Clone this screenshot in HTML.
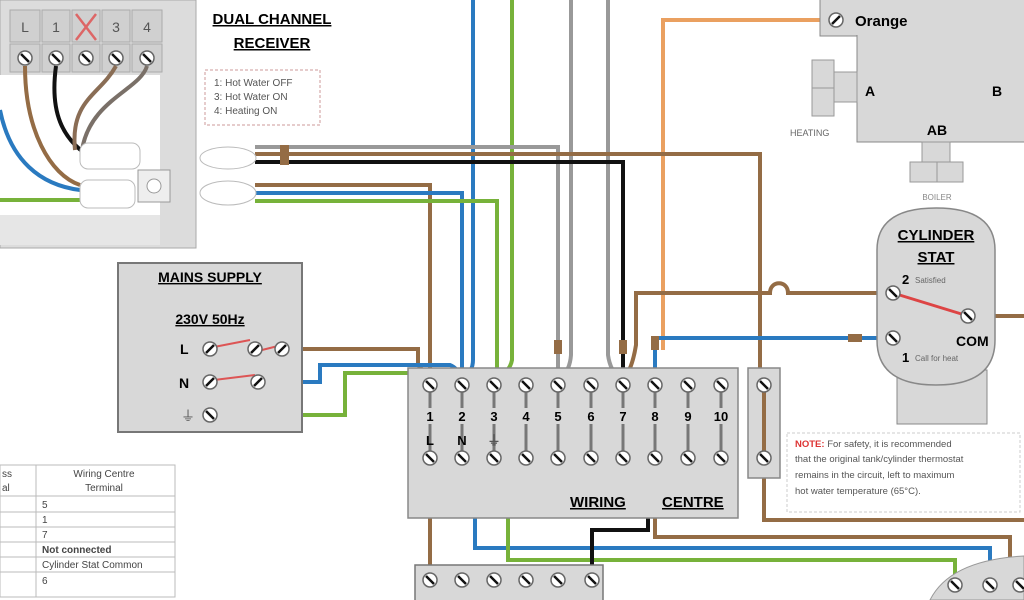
<!DOCTYPE html>
<html><head><meta charset="utf-8"><style>
html,body{margin:0;padding:0;background:#fff;width:1024px;height:600px;overflow:hidden}
svg{display:block}
text{font-family:"Liberation Sans",sans-serif}
.b{font-weight:bold}
</style></head><body>
<svg width="1024" height="600" viewBox="0 0 1024 600" xmlns="http://www.w3.org/2000/svg">
<defs>
<g id="s"><circle r="7" fill="#fff" stroke="#666" stroke-width="1.5"/><line x1="-4" y1="-4" x2="4" y2="4" stroke="#111" stroke-width="2.5"/></g>
<g id="sr"><circle r="7" fill="#fff" stroke="#666" stroke-width="1.5"/><line x1="-4" y1="4" x2="4" y2="-4" stroke="#111" stroke-width="2.5"/></g>
</defs>
<!-- receiver -->
<rect x="0" y="0" width="196" height="248" fill="#dcdcdc" stroke="#aaa"/>
<rect x="0" y="75" width="160" height="140" fill="#fff"/>
<rect x="0" y="215" width="160" height="30" fill="#e6e6e6"/>
<g fill="#d0d0d0" stroke="#aaa">
<rect x="10" y="10" width="30" height="32"/><rect x="42" y="10" width="28" height="32"/><rect x="72" y="10" width="28" height="32"/><rect x="102" y="10" width="28" height="32"/><rect x="132" y="10" width="30" height="32"/>
<rect x="10" y="44" width="30" height="28"/><rect x="42" y="44" width="28" height="28"/><rect x="72" y="44" width="28" height="28"/><rect x="102" y="44" width="28" height="28"/><rect x="132" y="44" width="30" height="28"/>
</g>
<g font-size="14" fill="#555" text-anchor="middle"><text x="25" y="32">L</text><text x="56" y="32">1</text><text x="116" y="32">3</text><text x="147" y="32">4</text></g>
<path d="M76 14 L96 40 M96 14 L76 40" stroke="#d66" stroke-width="2.5"/>
<g><use href="#s" x="25" y="58"/><use href="#s" x="56" y="58"/><use href="#s" x="86" y="58"/><use href="#s" x="116" y="58"/><use href="#s" x="147" y="58"/></g>
<g fill="none" stroke-width="4">
<path d="M0 110 C10 160 40 185 80 190" stroke="#2a7ac0"/>
<path d="M25 66 C25 130 50 175 80 185" stroke="#946c45"/>
<path d="M56 66 C50 110 60 140 95 160" stroke="#111"/>
<path d="M116 66 C100 95 70 100 75 150" stroke="#8a6d55"/>
<path d="M147 66 C140 90 90 100 82 150" stroke="#7a7068"/>
<path d="M0 200 L82 200" stroke="#77b23a"/>
</g>
<rect x="80" y="143" width="60" height="26" rx="8" fill="#fff" stroke="#bbb"/>
<rect x="80" y="180" width="55" height="28" rx="8" fill="#fff" stroke="#bbb"/>
<rect x="138" y="170" width="32" height="32" fill="#eee" stroke="#999"/><circle cx="154" cy="186" r="7" fill="#fff" stroke="#999"/>
<text x="272" y="24" class="b" font-size="15" text-anchor="middle" text-decoration="underline">DUAL CHANNEL</text>
<text x="272" y="48" class="b" font-size="15" text-anchor="middle" text-decoration="underline">RECEIVER</text>
<rect x="205" y="70" width="115" height="55" fill="#fff" stroke="#c99" stroke-dasharray="3 2"/>
<g font-size="10" fill="#555"><text x="214" y="86">1: Hot Water OFF</text><text x="214" y="100">3: Hot Water ON</text><text x="214" y="114">4: Heating ON</text></g>
<!-- vertical top wires -->
<g fill="none" stroke-width="4">
<path d="M473 0 V360 Q473 372 462 380" stroke="#2a7ac0"/>
<path d="M512 0 V360 Q510 372 494 380" stroke="#77b23a"/>
<path d="M571 0 V355 Q570 370 560 380" stroke="#999"/>
<path d="M608 0 V355 Q610 370 620 380" stroke="#999"/>
<path d="M836 20 H663 V350" stroke="#eaa060"/>
<!-- receiver plug wires -->
<path d="M255 147 H558 V380" stroke="#999"/>
<path d="M255 154 H760 V380" stroke="#946c45"/>
<path d="M255 162 H623 V380" stroke="#111"/>
<path d="M255 185 H430 V380" stroke="#946c45"/>
<path d="M255 193 H462 V380" stroke="#2a7ac0"/>
<path d="M255 201 H497 V380" stroke="#77b23a"/>
<!-- mains -->
<path d="M282 349 H418 V365 Q425 372 430 380" stroke="#946c45"/>
<path d="M258 382 H320 V365 H450 Q458 368 462 380" stroke="#2a7ac0"/>
<path d="M210 415 H345 V373 H480 Q490 375 494 380" stroke="#77b23a"/>
<!-- cylinder stat wires -->
<path d="M893 293 H788 C788 280 770 280 770 293 H636 V345 Q632 370 623 380" stroke="#946c45"/>
<path d="M893 338 H655 V380" stroke="#2a7ac0"/>
<path d="M968 316 H1024" stroke="#946c45"/>
<!-- bottom wires -->
<path d="M430 458 V570" stroke="#946c45"/>
<path d="M462 458 Q475 470 475 490 V548 H990 V580" stroke="#2a7ac0"/>
<path d="M494 458 Q508 470 508 490 V560 H955 V580" stroke="#77b23a"/>
<path d="M655 458 Q648 470 648 490 V530 H592 V580" stroke="#111"/>
<path d="M655 470 V537 H1010 V580" stroke="#946c45"/>
<path d="M764 385 V520 H1024" stroke="#946c45"/>
</g>
<g fill="#946c45"><rect x="280" y="145" width="9" height="20"/><rect x="554" y="340" width="8" height="14"/><rect x="619" y="340" width="8" height="14"/><rect x="651" y="336" width="8" height="14"/><rect x="848" y="334" width="14" height="8"/></g>
<ellipse cx="228" cy="158" rx="28" ry="11" fill="#fff" stroke="#bbb"/>
<ellipse cx="228" cy="193" rx="28" ry="12" fill="#fff" stroke="#bbb"/>
<!-- mains box -->
<rect x="118" y="263" width="184" height="169" fill="#d8d8d8" stroke="#777" stroke-width="2"/>
<text x="210" y="282" class="b" font-size="14" text-anchor="middle" text-decoration="underline">MAINS SUPPLY</text>
<text x="210" y="324" class="b" font-size="14" text-anchor="middle" text-decoration="underline">230V 50Hz</text>
<g class="b" font-size="14"><text x="180" y="354">L</text><text x="179" y="388">N</text></g>
<text x="181" y="421" font-size="14" fill="#555">⏚</text>
<path d="M214 347 L250 340 M262 350 L278 346 M214 380 L255 375" stroke="#d55" stroke-width="2"/>
<use href="#sr" x="210" y="349"/><use href="#sr" x="255" y="349"/><use href="#sr" x="282" y="349"/>
<use href="#sr" x="210" y="382"/><use href="#sr" x="258" y="382"/><use href="#s" x="210" y="415"/>
<!-- wiring centre -->
<rect x="408" y="368" width="330" height="150" fill="#d8d8d8" stroke="#888" stroke-width="1.5"/>
<g stroke="#777" stroke-width="3">
<line x1="430" y1="385" x2="430" y2="458"/><line x1="462" y1="385" x2="462" y2="458"/><line x1="494" y1="385" x2="494" y2="458"/><line x1="526" y1="385" x2="526" y2="458"/><line x1="558" y1="385" x2="558" y2="458"/><line x1="591" y1="385" x2="591" y2="458"/><line x1="623" y1="385" x2="623" y2="458"/><line x1="655" y1="385" x2="655" y2="458"/><line x1="688" y1="385" x2="688" y2="458"/><line x1="721" y1="385" x2="721" y2="458"/>
</g>
<g class="b" font-size="13" text-anchor="middle">
<rect x="423" y="408" width="305" height="16" fill="#d8d8d8"/>
<text x="430" y="421">1</text><text x="462" y="421">2</text><text x="494" y="421">3</text><text x="526" y="421">4</text><text x="558" y="421">5</text><text x="591" y="421">6</text><text x="623" y="421">7</text><text x="655" y="421">8</text><text x="688" y="421">9</text><text x="721" y="421">10</text>
<text x="430" y="445">L</text><text x="462" y="445">N</text><text x="494" y="445" fill="#555">⏚</text>
</g>
<g>
<use href="#s" x="430" y="385"/><use href="#s" x="462" y="385"/><use href="#s" x="494" y="385"/><use href="#s" x="526" y="385"/><use href="#s" x="558" y="385"/><use href="#s" x="591" y="385"/><use href="#s" x="623" y="385"/><use href="#s" x="655" y="385"/><use href="#s" x="688" y="385"/><use href="#s" x="721" y="385"/>
<use href="#s" x="430" y="458"/><use href="#s" x="462" y="458"/><use href="#s" x="494" y="458"/><use href="#s" x="526" y="458"/><use href="#s" x="558" y="458"/><use href="#s" x="591" y="458"/><use href="#s" x="623" y="458"/><use href="#s" x="655" y="458"/><use href="#s" x="688" y="458"/><use href="#s" x="721" y="458"/>
</g>
<text x="570" y="507" class="b" font-size="15" text-decoration="underline">WIRING</text>
<text x="662" y="507" class="b" font-size="15" text-decoration="underline">CENTRE</text>
<rect x="748" y="368" width="32" height="110" fill="#d8d8d8" stroke="#888" stroke-width="1.5"/>
<line x1="764" y1="385" x2="764" y2="458" stroke="#946c45" stroke-width="4"/>
<use href="#s" x="764" y="385"/><use href="#s" x="764" y="458"/>
<!-- bottom strip -->
<rect x="415" y="565" width="188" height="40" fill="#d8d8d8" stroke="#777" stroke-width="1.5"/>
<use href="#s" x="430" y="580"/><use href="#s" x="462" y="580"/><use href="#s" x="494" y="580"/><use href="#s" x="526" y="580"/><use href="#s" x="558" y="580"/><use href="#s" x="592" y="580"/>
<!-- bottom-right device -->
<path d="M930 600 Q950 560 1024 556 V600 Z" fill="#d8d8d8" stroke="#999"/>
<use href="#s" x="955" y="585"/><use href="#s" x="990" y="585"/><use href="#s" x="1020" y="585"/>
<!-- note -->
<rect x="787" y="433" width="233" height="79" fill="#fff" stroke="#ccc" stroke-dasharray="3 2"/>
<g font-size="9.5" fill="#555"><text x="795" y="447"><tspan fill="#d33" font-weight="bold">NOTE:</tspan> For safety, it is recommended</text><text x="795" y="462">that the original tank/cylinder thermostat</text><text x="795" y="478">remains in the circuit, left to maximum</text><text x="795" y="494">hot water temperature (65°C).</text></g>
<!-- table -->
<g stroke="#bbb" fill="none"><rect x="0" y="465" width="175" height="132"/><line x1="36" y1="465" x2="36" y2="597"/>
<line x1="0" y1="496" x2="175" y2="496"/><line x1="0" y1="512" x2="175" y2="512"/><line x1="0" y1="527" x2="175" y2="527"/><line x1="0" y1="542" x2="175" y2="542"/><line x1="0" y1="557" x2="175" y2="557"/><line x1="0" y1="572" x2="175" y2="572"/></g>
<g font-size="10" fill="#444"><text x="104" y="477" text-anchor="middle">Wiring Centre</text><text x="104" y="491" text-anchor="middle">Terminal</text>
<text x="2" y="477">ss</text><text x="2" y="491">al</text>
<text x="42" y="508">5</text><text x="42" y="523">1</text><text x="42" y="538">7</text><text x="42" y="553" font-weight="bold">Not connected</text><text x="42" y="568">Cylinder Stat Common</text><text x="42" y="584">6</text></g>
<!-- zone valve -->
<rect x="820" y="-2" width="80" height="38" fill="#d8d8d8" stroke="#888"/>
<rect x="857" y="-2" width="170" height="144" fill="#d8d8d8" stroke="#888"/>
<rect x="821" y="0" width="78" height="35" fill="#d8d8d8"/>
<use href="#sr" x="836" y="20"/>
<text x="855" y="26" class="b" font-size="15">Orange</text>
<rect x="812" y="60" width="22" height="56" fill="#d8d8d8" stroke="#999"/><line x1="812" y1="88" x2="834" y2="88" stroke="#999"/>
<rect x="834" y="72" width="23" height="30" fill="#d8d8d8" stroke="#999"/>
<text x="790" y="136" font-size="9" fill="#666">HEATING</text>
<text x="865" y="96" class="b" font-size="14">A</text><text x="992" y="96" class="b" font-size="14">B</text>
<text x="937" y="135" class="b" font-size="14" text-anchor="middle">AB</text>
<rect x="922" y="142" width="28" height="22" fill="#d8d8d8" stroke="#999"/>
<rect x="910" y="162" width="53" height="20" fill="#d8d8d8" stroke="#999"/><line x1="937" y1="162" x2="937" y2="182" stroke="#999"/>
<text x="937" y="200" font-size="8" fill="#888" text-anchor="middle">BOILER</text>
<!-- cylinder stat -->
<rect x="897" y="370" width="90" height="54" fill="#d8d8d8" stroke="#888"/>
<path d="M877 250 Q877 208 936 208 Q995 208 995 250 V340 Q995 385 936 385 Q877 385 877 340 Z" fill="#d8d8d8" stroke="#888" stroke-width="1.5"/>
<text x="936" y="240" class="b" font-size="15" text-anchor="middle" text-decoration="underline">CYLINDER</text>
<text x="936" y="262" class="b" font-size="15" text-anchor="middle" text-decoration="underline">STAT</text>
<text x="902" y="284" class="b" font-size="13">2</text><text x="915" y="283" font-size="8" fill="#666">Satisfied</text>
<text x="956" y="346" class="b" font-size="14">COM</text>
<text x="902" y="362" class="b" font-size="13">1</text><text x="915" y="361" font-size="8" fill="#666">Call for heat</text>
<line x1="893" y1="293" x2="968" y2="316" stroke="#d44" stroke-width="3"/>
<use href="#s" x="893" y="293"/><use href="#s" x="968" y="316"/><use href="#s" x="893" y="338"/>
</svg>
</body></html>
